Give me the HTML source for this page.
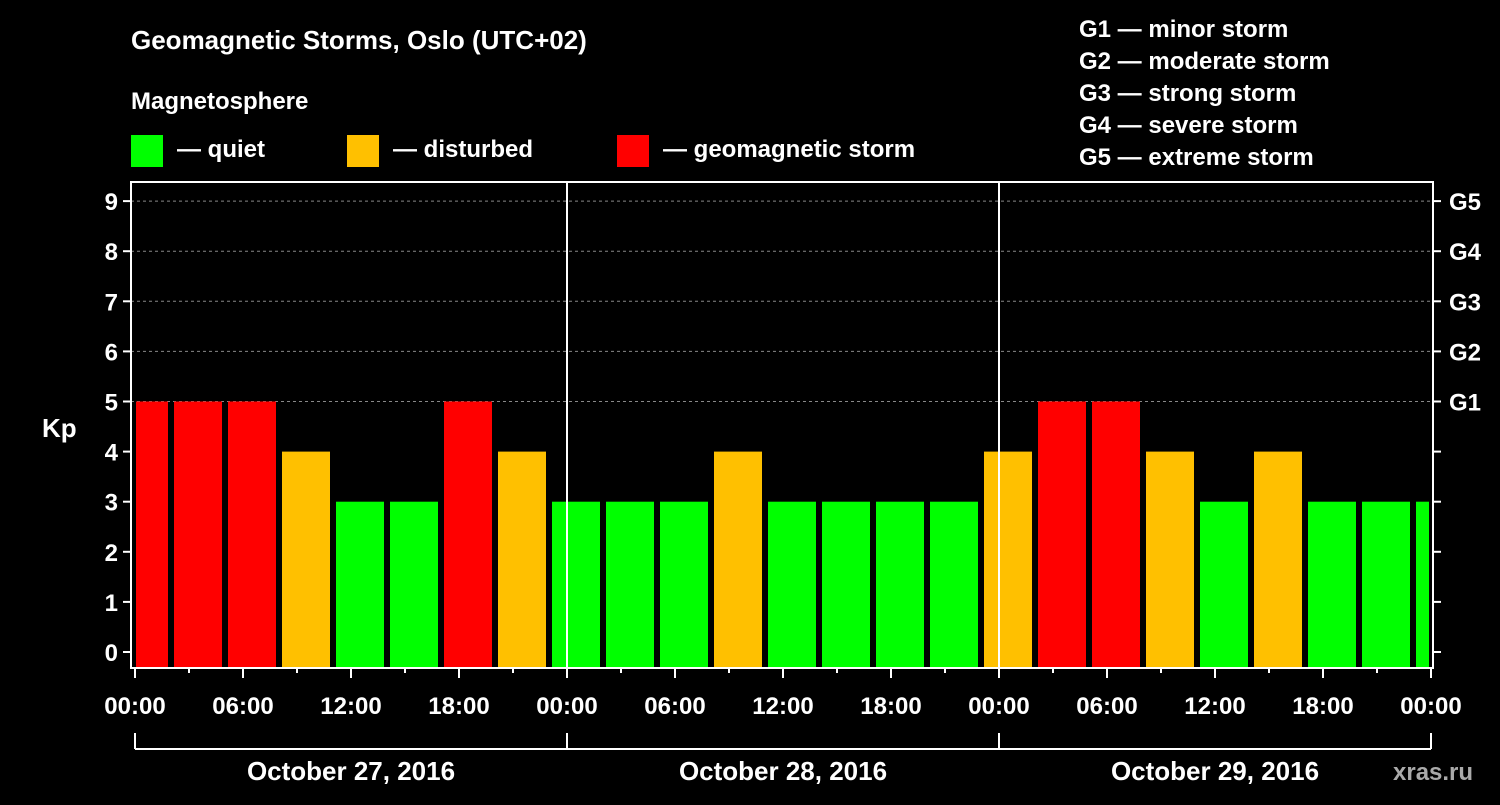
<!DOCTYPE html>
<html><head><meta charset="utf-8"><style>
body{margin:0;background:#000;width:1500px;height:800px;overflow:hidden}
svg text{font-family:"Liberation Sans",Arial,sans-serif;font-weight:bold;fill:#fff}
</style></head><body>
<svg id="chart" width="1500" height="800" xmlns="http://www.w3.org/2000/svg">
<text x="131" y="49" font-size="26">Geomagnetic Storms, Oslo (UTC+02)</text>
<text x="131" y="109" font-size="24">Magnetosphere</text>
<g>
<rect x="131" y="135" width="32" height="32" fill="#00ff00"/>
<text x="177" y="157" font-size="24">— quiet</text>
<rect x="347" y="135" width="32" height="32" fill="#ffc000"/>
<text x="393" y="157" font-size="24">— disturbed</text>
<rect x="617" y="135" width="32" height="32" fill="#ff0000"/>
<text x="663" y="157" font-size="24">— geomagnetic storm</text>
</g>
<g font-size="24">
<text x="1079" y="37">G1 — minor storm</text>
<text x="1079" y="69">G2 — moderate storm</text>
<text x="1079" y="101">G3 — strong storm</text>
<text x="1079" y="133">G4 — severe storm</text>
<text x="1079" y="165">G5 — extreme storm</text>
</g>
<g id="grid"></g>
<g id="bars"></g>
<g id="axes"></g>
<text x="42" y="437" font-size="26">Kp</text>
<text x="1393" y="780" font-size="24" fill="#aaa" style="fill:#aaa">xras.ru</text>
</svg>
<script>
const kpValues=[5,5,5,4,3,3,5,4, 3,3,3,3,4,3,3,3, 3,4,5,5,4,3,4,3, 3,3];
const yTicks=[0,1,2,3,4,5,6,7,8,9];
const gLabels=["G1","G2","G3","G4","G5"];
const hourLabels=["00:00","06:00","12:00","18:00","00:00","06:00","12:00","18:00","00:00","06:00","12:00","18:00","00:00"];
const dayLabels=["October 27, 2016","October 28, 2016","October 29, 2016"];
// kp values per 3-hour slot (25 slots; last one partly visible)
const kp=[5,5,5,4,3,3,5,4,3,3,3,4,3,3,3,3,4,5,5,4,3,4,3,3,3];
const NS="http://www.w3.org/2000/svg";
const L=131,R=1433,T=182,B=668,X0=135,PXH=18;
const xs=h=>X0+h*PXH;
const ys=v=>652-v*50.1;
function mk(tag,attrs,parent){const e=document.createElementNS(NS,tag);for(const k in attrs)e.setAttribute(k,attrs[k]);parent.appendChild(e);return e;}
const grid=document.getElementById('grid'),bars=document.getElementById('bars'),axes=document.getElementById('axes');
yTicks.forEach(v=>{
 if(v>=5){const g=mk('line',{x1:L,x2:R,y1:ys(v),y2:ys(v),stroke:'#888','stroke-width':1,'stroke-dasharray':'3,3'},grid);
 
 }
 const t=mk('line',{x1:L-8,x2:L,y1:ys(v),y2:ys(v),stroke:'#fff','stroke-width':2},axes);
 
 
 const t2=mk('line',{x1:R,x2:R+8,y1:ys(v),y2:ys(v),stroke:'#fff','stroke-width':2},axes);
 
 
 const lb=mk('text',{x:L-13,y:ys(v)+9,'font-size':24,'text-anchor':'end'},axes);lb.textContent=v;
 
 
});
gLabels.forEach((g,i)=>{const t=mk('text',{x:1449,y:ys(5+i)+9,'font-size':24},axes);t.textContent=g;
 
 });
kp.forEach((v,i)=>{
 let x1=xs(i*3)-15,x2=x1+48;x1=Math.max(x1,L+5);x2=Math.min(x2,R-4);
 if(x2<=x1)return;
 const c=v>=5?'#ff0000':(v>=4?'#ffc000':'#00ff00');
 const r=mk('rect',{x:x1,y:ys(v),width:x2-x1,height:B-1-ys(v),fill:c},bars);
 
 
});
[1,2].forEach(d=>{const l=mk('line',{x1:xs(d*24),x2:xs(d*24),y1:T,y2:B,stroke:'#fff','stroke-width':2},axes);
 
 });
const box=mk('rect',{x:L,y:T,width:R-L,height:B-T,fill:'none',stroke:'#fff','stroke-width':2},axes);


for(let h=0;h<=72;h+=3){const long=h%6===0;
 const t=mk('line',{x1:xs(h),x2:xs(h),y1:B,y2:B+(long?10:5),stroke:'#fff','stroke-width':2},axes);
 
 }
hourLabels.forEach((s,i)=>{const t=mk('text',{x:xs(i*6),y:714,'font-size':24,'text-anchor':'middle'},axes);t.textContent=s;
 
 });
const br=mk('line',{x1:xs(0),x2:xs(72),y1:749,y2:749,stroke:'#fff','stroke-width':2},axes);


[0,1,2,3].forEach(d=>{const l=mk('line',{x1:xs(d*24),x2:xs(d*24),y1:733,y2:749,stroke:'#fff','stroke-width':2},axes);
 
 });
dayLabels.forEach((s,i)=>{const t=mk('text',{x:xs(i*24+12),y:780,'font-size':26,'text-anchor':'middle'},axes);t.textContent=s;
 
 });
</script>
</body></html>
